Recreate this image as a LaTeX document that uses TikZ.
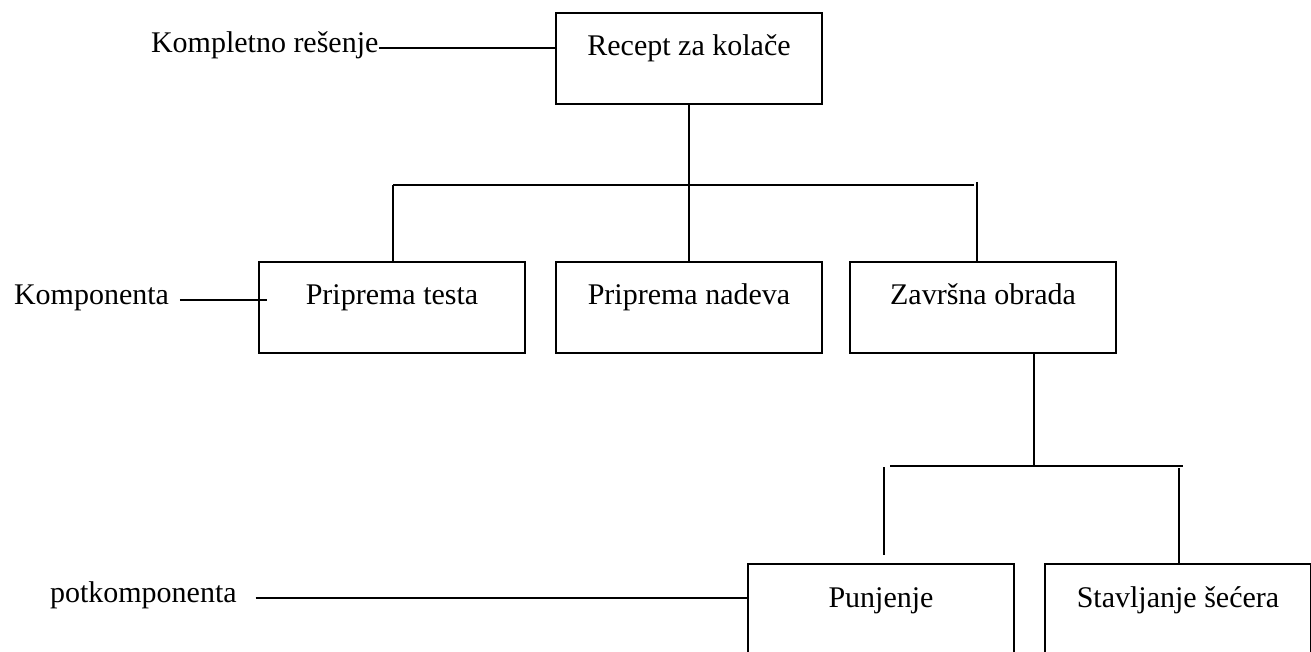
\documentclass[tikz,border=0pt]{standalone}
\usepackage{fontspec}
\setmainfont{Liberation Serif}
\usetikzlibrary{calc}
\begin{document}
\begin{tikzpicture}[x=1pt,y=-1pt,
  line width=2pt,
  every node/.style={font=\fontsize{30}{36}\selectfont},
  box/.style={draw, rectangle, anchor=north west, inner sep=0pt,
    minimum width=266pt, text height=43pt, text depth=48pt},
  tag/.style={inner sep=0pt, anchor=base west}]
\useasboundingbox (0,0) rectangle (1311,652);

% boxes of the breakdown
\node[box] (root)  at (555,12)   {Recept za kolače};
\node[box] (testa) at (258,261)  {Priprema testa};
\node[box] (nadev) at (555,261)  {Priprema nadeva};
\node[box] (zavr)  at (849,261)  {Završna obrada};
\node[box] (punj)  at (747,563)  {Punjenje};
\node[box] (secer) at (1044,563) {Stavljanje šećera};

% level names on the left
\node[tag] (lsol)  at (150,53)  {Kompletno rešenje};
\node[tag] (lkomp) at (13,304)  {Komponenta};
\node[tag] (lpot)  at (49,602)  {potkomponenta};

\draw ($(lsol.base east)+(0,-5)$) -- ($(root.west |- lsol.base east)+(0,-5)$);
\draw ($(lkomp.base east)+(10,-4)$) -- ($(testa.west |- lkomp.base east)+(9,-4)$);
\draw ($(lpot.base east)+(18,-4)$) -- ($(punj.west |- lpot.base east)+(0,-4)$);

% first level
\coordinate (b1) at (393,185);
\coordinate (b2) at (974,185);
\coordinate (b3) at (977,182);
\draw (root.south) -- (root.south |- nadev.north);
\draw (b1) -- (b2);
\draw (b1) -- (b1 |- testa.north);
\draw (b3) -- (b3 |- zavr.north);

% second level
\coordinate (c0) at (1034,466);
\coordinate (c1) at (890,466);
\coordinate (c2) at (1183,466);
\coordinate (c3) at (884,467);
\coordinate (c4) at (884,555);
\coordinate (c5) at (1179,468);
\draw (c0 |- zavr.south) -- (c0);
\draw (c1) -- (c2);
\draw (c3) -- (c4);
\draw (c5) -- (c5 |- secer.north);
\end{tikzpicture}
\end{document}
